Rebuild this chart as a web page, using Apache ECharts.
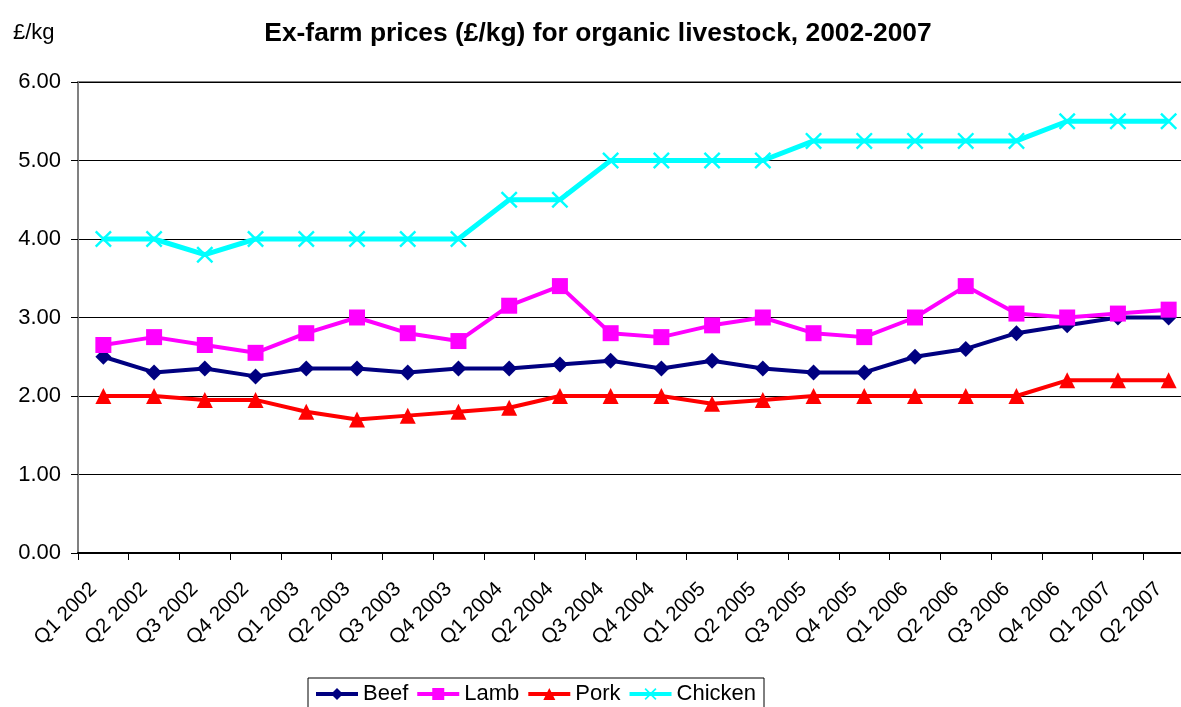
<!DOCTYPE html>
<html>
<head>
<meta charset="utf-8">
<title>Ex-farm prices for organic livestock</title>
<script src="https://cdn.jsdelivr.net/npm/echarts@6/dist/echarts.min.js"></script>
<style>
  html, body { margin: 0; padding: 0; background: #fff; }
  #main { width: 1181px; height: 707px; }
</style>
</head>
<body>
<div id="main"></div>
<script>
// quarters shown on the x axis
var quarters = ['Q1 2002', 'Q2 2002', 'Q3 2002', 'Q4 2002', 'Q1 2003', 'Q2 2003', 'Q3 2003', 'Q4 2003',
    'Q1 2004', 'Q2 2004', 'Q3 2004', 'Q4 2004', 'Q1 2005', 'Q2 2005', 'Q3 2005', 'Q4 2005',
    'Q1 2006', 'Q2 2006', 'Q3 2006', 'Q4 2006', 'Q1 2007', 'Q2 2007'];
// prices in £/kg
var beef = [2.5, 2.3, 2.35, 2.25, 2.35, 2.35, 2.3, 2.35, 2.35, 2.4, 2.45, 2.35, 2.45, 2.35, 2.3, 2.3, 2.5, 2.6, 2.8, 2.9, 3.0, 3.0];
var lamb = [2.65, 2.75, 2.65, 2.55, 2.8, 3.0, 2.8, 2.7, 3.15, 3.4, 2.8, 2.75, 2.9, 3.0, 2.8, 2.75, 3.0, 3.4, 3.05, 3.0, 3.05, 3.1];
var pork = [2.0, 2.0, 1.95, 1.95, 1.8, 1.7, 1.75, 1.8, 1.85, 2.0, 2.0, 2.0, 1.9, 1.95, 2.0, 2.0, 2.0, 2.0, 2.0, 2.2, 2.2, 2.2];
var chicken = [4.0, 4.0, 3.8, 4.0, 4.0, 4.0, 4.0, 4.0, 4.5, 4.5, 5.0, 5.0, 5.0, 5.0, 5.25, 5.25, 5.25, 5.25, 5.25, 5.5, 5.5, 5.5];

var crossIcon = 'path://M0,1L1,0L5,4L9,0L10,1L6,5L10,9L9,10L5,6L1,10L0,9L4,5Z';
var font = 'Arial, "Liberation Sans", sans-serif';

function lineSeries(name, data, color, symbol, size, width) {
    return {
        name: name, type: 'line', data: data,
        symbol: symbol, symbolSize: size, showAllSymbol: true,
        lineStyle: {color: color, width: width},
        itemStyle: {color: color, borderWidth: 0}
    };
}

var myChart = echarts.init(document.getElementById('main'));
var option = {
    animation: false,
    backgroundColor: '#fff',
    textStyle: {fontFamily: font},
    title: [
        {text: 'Ex-farm prices (£/kg) for organic livestock, 2002-2007', left: 598, top: 21, padding: 0, textAlign: 'center',
            textStyle: {fontSize: 26.4, fontWeight: 'bold', color: '#000', fontFamily: font}},
        {text: '£/kg', left: 13, top: 22, padding: 0, textStyle: {fontSize: 22, fontWeight: 'normal', color: '#000', fontFamily: font}}
    ],
    // plot runs past the right edge of the picture, as in the original
    grid: {left: 78, width: 1116, top: 82, height: 471, outerBoundsMode: 'none', containLabel: false,
        show: true, borderColor: '#808080', borderWidth: 2},
    legend: {
        left: 308, top: 678, itemWidth: 42, itemHeight: 15, itemGap: 7,
        padding: [5, 8, 6, 6],
        borderColor: '#000', borderWidth: 1,
        lineStyle: {width: 4},
        textStyle: {fontSize: 22, color: '#000', fontFamily: font},
        data: ['Beef', 'Lamb', 'Pork', 'Chicken']
    },
    xAxis: {
        type: 'category', data: quarters, boundaryGap: true,
        axisLine: {lineStyle: {color: '#000', width: 2}},
        axisTick: {show: true, length: 7, lineStyle: {color: '#000'}},
        axisLabel: {interval: 0, rotate: 45, fontSize: 20.5, color: '#000', margin: 23, padding: [0, 14, 0, 0], fontFamily: font}
    },
    yAxis: {
        type: 'value', min: 0, max: 6, interval: 1,
        axisLine: {show: true, lineStyle: {color: '#808080', width: 2}},
        axisTick: {show: true, length: 7, lineStyle: {color: '#000'}},
        axisLabel: {fontSize: 22, color: '#000', margin: 17, fontFamily: font,
            formatter: function (v) { return v.toFixed(2); }},
        splitLine: {lineStyle: {color: '#000', width: 1}}
    },
    series: [
        lineSeries('Beef', beef, '#000080', 'diamond', 16, 4),
        lineSeries('Lamb', lamb, '#ff00ff', 'rect', 16, 4),
        lineSeries('Pork', pork, '#ff0000', 'triangle', 16, 4),
        lineSeries('Chicken', chicken, '#00ffff', crossIcon, 17, 5)
    ]
};
myChart.setOption(option);
</script>
</body>
</html>
